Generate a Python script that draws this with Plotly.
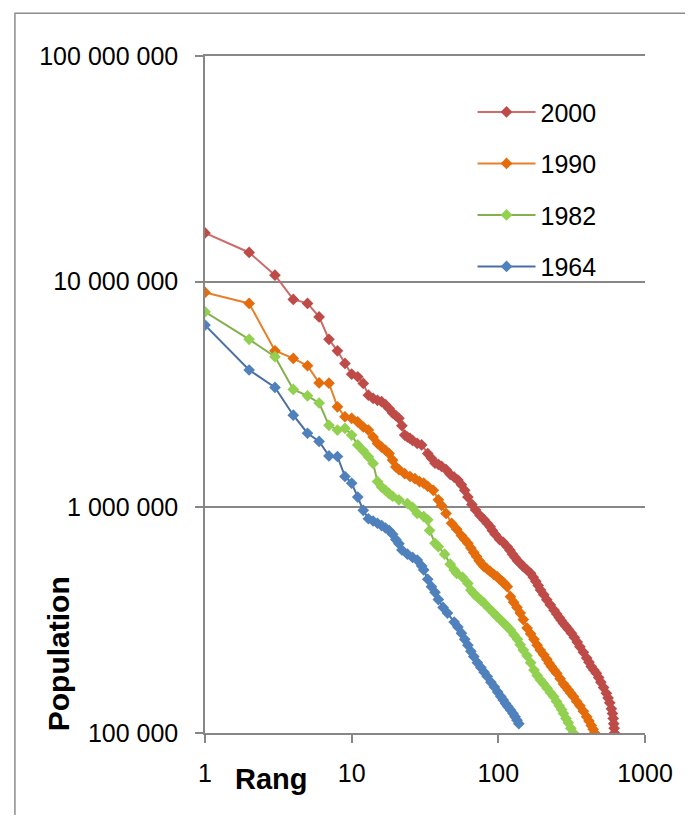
import plotly.graph_objects as go

# ---- data: (rank, population) ----
data_2000 = [
    (1, 16.45e6), (2, 13.47e6), (3, 10.69e6), (4, 8.34e6), (5, 8.01e6), (6, 6.98e6),
    (7, 5.55e6), (8, 4.94e6), (9, 4.34e6), (10, 3.89e6), (11, 3.79e6), (12, 3.54e6),
    (13, 3.14e6), (14, 3.04e6), (15, 2.98e6), (16, 2.94e6), (17, 2.85e6), (18, 2.74e6),
    (19, 2.62e6), (20, 2.55e6), (21, 2.48e6), (22, 2.30e6), (23, 2.09e6), (24, 2.05e6),
    (25, 2.02e6), (26, 1.98e6), (28, 1.92e6), (30, 1.89e6), (33, 1.73e6), (35, 1.65e6),
    (37, 1.57e6), (39, 1.55e6), (41, 1.52e6), (44, 1.47e6), (47, 1.40e6), (50, 1.36e6),
    (53, 1.32e6), (56, 1.26e6), (59, 1.19e6), (62, 1.11e6), (66, 1.03e6), (70, 0.973e6),
    (75, 0.92e6), (80, 0.88e6), (84, 0.85e6), (88, 0.82e6), (91, 0.79e6), (95, 0.76e6),
    (102, 0.72e6), (108, 0.70e6), (115, 0.669e6), (120, 0.645e6), (125, 0.62e6),
    (130, 0.60e6), (135, 0.58e6), (141, 0.565e6), (148, 0.546e6), (156, 0.53e6),
    (166, 0.51e6), (173, 0.49e6), (180, 0.47e6), (187, 0.45e6), (194, 0.43e6),
    (204, 0.41e6), (214, 0.389e6), (226, 0.37e6), (240, 0.35e6), (250, 0.337e6),
    (260, 0.325e6), (268, 0.316e6), (278, 0.306e6), (289, 0.297e6), (300, 0.288e6),
    (315, 0.277e6), (330, 0.265e6), (345, 0.253e6), (360, 0.241e6), (380, 0.228e6),
    (400, 0.215e6), (415, 0.206e6), (430, 0.197e6), (448, 0.19e6), (466, 0.184e6),
    (483, 0.176e6), (500, 0.168e6), (522, 0.159e6), (545, 0.150e6), (560, 0.143e6),
    (575, 0.136e6), (590, 0.128e6), (600, 0.122e6), (607, 0.116e6), (612, 0.110e6),
    (616, 0.105e6), (620, 0.100e6),
]

data_1990 = [
    (1, 8.96e6), (2, 8.01e6), (3, 4.94e6), (4, 4.57e6), (5, 4.24e6), (6, 3.56e6),
    (7, 3.55e6), (8, 2.79e6), (9, 2.52e6), (10, 2.48e6), (11, 2.39e6), (12, 2.27e6),
    (13, 2.20e6), (14, 2.05e6), (15, 1.92e6), (16, 1.85e6), (17, 1.79e6), (18, 1.73e6),
    (19, 1.62e6), (20, 1.51e6), (21, 1.47e6), (23, 1.41e6), (25, 1.37e6), (27, 1.34e6),
    (29, 1.30e6), (31, 1.28e6), (33, 1.24e6), (36, 1.19e6), (39, 1.08e6), (41, 1.02e6),
    (44, 0.94e6), (48, 0.85e6), (52, 0.80e6), (56, 0.75e6), (59, 0.72e6), (62, 0.693e6),
    (65, 0.66e6), (68, 0.63e6), (71, 0.605e6), (74, 0.58e6), (77, 0.562e6), (80, 0.546e6),
    (84, 0.533e6), (88, 0.52e6), (93, 0.505e6), (98, 0.493e6), (102, 0.48e6),
    (106, 0.47e6), (110, 0.46e6), (115, 0.445e6), (121, 0.402e6), (127, 0.38e6),
    (134, 0.36e6), (141, 0.34e6), (148, 0.318e6), (157, 0.292e6), (166, 0.275e6),
    (175, 0.26e6), (184, 0.245e6), (193, 0.233e6), (204, 0.222e6), (214, 0.212e6),
    (222, 0.204e6), (230, 0.197e6), (240, 0.19e6), (250, 0.184e6), (264, 0.174e6),
    (278, 0.165e6), (289, 0.16e6), (300, 0.155e6), (312, 0.15e6), (325, 0.145e6),
    (342, 0.138e6), (360, 0.132e6), (380, 0.125e6), (400, 0.118e6), (415, 0.113e6),
    (430, 0.108e6), (443, 0.104e6), (454, 0.100e6),
]

data_1982 = [
    (1, 7.35e6), (2, 5.55e6), (3, 4.65e6), (4, 3.33e6), (5, 3.12e6), (6, 2.90e6),
    (7, 2.31e6), (8, 2.20e6), (9, 2.24e6), (10, 2.09e6), (11, 1.89e6), (12, 1.78e6),
    (13, 1.675e6), (14, 1.566e6), (15, 1.30e6), (16, 1.23e6), (17, 1.19e6), (18, 1.15e6),
    (19, 1.12e6), (21, 1.08e6), (24, 1.04e6), (26, 1.00e6), (28, 0.94e6), (31, 0.91e6),
    (33, 0.88e6), (34, 0.79e6), (37, 0.693e6), (39, 0.669e6), (43, 0.62e6), (47, 0.56e6),
    (50, 0.528e6), (52, 0.51e6), (57, 0.49e6), (62, 0.46e6), (65, 0.43e6), (68, 0.415e6),
    (72, 0.40e6), (76, 0.388e6), (80, 0.376e6), (86, 0.358e6), (93, 0.34e6), (98, 0.328e6),
    (104, 0.316e6), (110, 0.305e6), (115, 0.296e6), (121, 0.286e6), (128, 0.272e6),
    (135, 0.26e6), (141, 0.246e6), (148, 0.233e6), (157, 0.22e6), (166, 0.205e6),
    (175, 0.19e6), (184, 0.18e6), (193, 0.172e6), (204, 0.165e6), (215, 0.158e6),
    (226, 0.151e6), (238, 0.145e6), (249, 0.138e6), (260, 0.132e6), (270, 0.127e6),
    (278, 0.122e6), (289, 0.116e6), (300, 0.111e6), (312, 0.105e6), (325, 0.100e6),
]

data_1964 = [
    (1, 6.42e6), (2, 4.06e6), (3, 3.40e6), (4, 2.56e6), (5, 2.13e6), (6, 1.96e6),
    (7, 1.69e6), (8, 1.68e6), (9, 1.37e6), (10, 1.28e6), (11, 1.11e6), (12, 0.97e6),
    (13, 0.89e6), (14, 0.87e6), (15, 0.85e6), (16, 0.83e6), (17, 0.81e6), (18, 0.79e6),
    (19, 0.76e6), (20, 0.72e6), (21, 0.69e6), (22, 0.647e6), (24, 0.62e6), (26, 0.60e6),
    (28, 0.584e6), (30, 0.55e6), (31, 0.528e6), (33, 0.48e6), (35, 0.445e6), (37, 0.42e6),
    (39, 0.39e6), (42, 0.36e6), (45, 0.34e6), (50, 0.31e6), (53, 0.295e6), (56, 0.277e6),
    (59, 0.26e6), (62, 0.245e6), (65, 0.23e6), (68, 0.218e6), (72, 0.205e6), (76, 0.195e6),
    (80, 0.186e6), (84, 0.178e6), (89, 0.168e6), (94, 0.16e6), (99, 0.152e6),
    (104, 0.145e6), (108, 0.14e6), (112, 0.135e6), (116, 0.131e6), (121, 0.1265e6),
    (126, 0.122e6), (130, 0.118e6), (134, 0.114e6), (138, 0.110e6),
]

series_names = ["2000", "1990", "1982", "1964"]
x_tick_vals = [1, 10, 100, 1000]
x_tick_text = ["1", "10", "100", "1000"]
y_tick_vals = [1e5, 1e6, 1e7, 1e8]
y_tick_text = ["100 000", "1 000 000", "10 000 000", "100 000 000"]

series_data = [data_2000, data_1990, data_1982, data_1964]
line_colors = ["#CD6B69", "#E8802A", "#86B04E", "#4A6FA5"]
marker_colors = ["#BE4B48", "#E46C0A", "#92D050", "#4F81BD"]

FONT = "Liberation Sans, Arial, sans-serif"

fig = go.Figure()
for name, data, lc, mc in zip(series_names, series_data, line_colors, marker_colors):
    fig.add_trace(go.Scatter(
        x=[r for r, _ in data], y=[p for _, p in data],
        name=name, mode="lines+markers", legendgroup=name,
        line=dict(color=lc, width=2),
        marker=dict(symbol="diamond", size=9, color=mc, line=dict(width=0)),
    ))

grid_col = "#878787"
fig.update_xaxes(
    type="log", range=[0, 3], tickvals=x_tick_vals, ticktext=x_tick_text,
    showgrid=False, showline=True, mirror=True, linecolor=grid_col, linewidth=1.5,
    ticks="outside", ticklen=8, tickcolor=grid_col, tickwidth=1.5,
    ticklabelstandoff=9, tickfont=dict(family=FONT, size=25, color="#000000"),
    zeroline=False,
)
fig.update_yaxes(
    type="log", range=[5, 8], tickvals=y_tick_vals, ticktext=y_tick_text,
    showgrid=True, gridcolor=grid_col, gridwidth=1.5,
    showline=True, linecolor=grid_col, linewidth=1.5,
    ticks="outside", ticklen=8, tickcolor=grid_col, tickwidth=1.5,
    ticklabelstandoff=12, tickfont=dict(family=FONT, size=25, color="#000000"),
    zeroline=False,
)

fig.update_layout(
    width=677, height=807, autosize=False,
    margin=dict(l=197, r=36, t=48, b=82),
    paper_bgcolor="white", plot_bgcolor="white",
    font=dict(family=FONT, size=25, color="#000000"),
    showlegend=True,
    legend=dict(
        x=0.608, y=0.951, xanchor="left", yanchor="top",
        bgcolor="rgba(0,0,0,0)", borderwidth=0,
        font=dict(family=FONT, size=25, color="#000000"),
        itemwidth=58, tracegroupgap=16, traceorder="grouped",
    ),
    annotations=[
        dict(text="<b>Population</b>", x=-0.333, y=0.117, xref="paper", yref="paper",
             textangle=-90, showarrow=False, xanchor="center", yanchor="middle",
             font=dict(family=FONT, size=30, color="#000000")),
        dict(text="<b>Rang</b>", x=0.151, y=-0.068, xref="paper", yref="paper",
             showarrow=False, xanchor="center", yanchor="middle",
             font=dict(family=FONT, size=29, color="#000000")),
    ],
    shapes=[
        dict(type="rect", xref="paper", yref="paper",
             x0=-0.432, x1=1.3, y0=-0.3, y1=1.063,
             line=dict(color="#8C8C8C", width=1.5), fillcolor="rgba(0,0,0,0)",
             layer="below"),
    ],
)

fig.write_html("out.html")
